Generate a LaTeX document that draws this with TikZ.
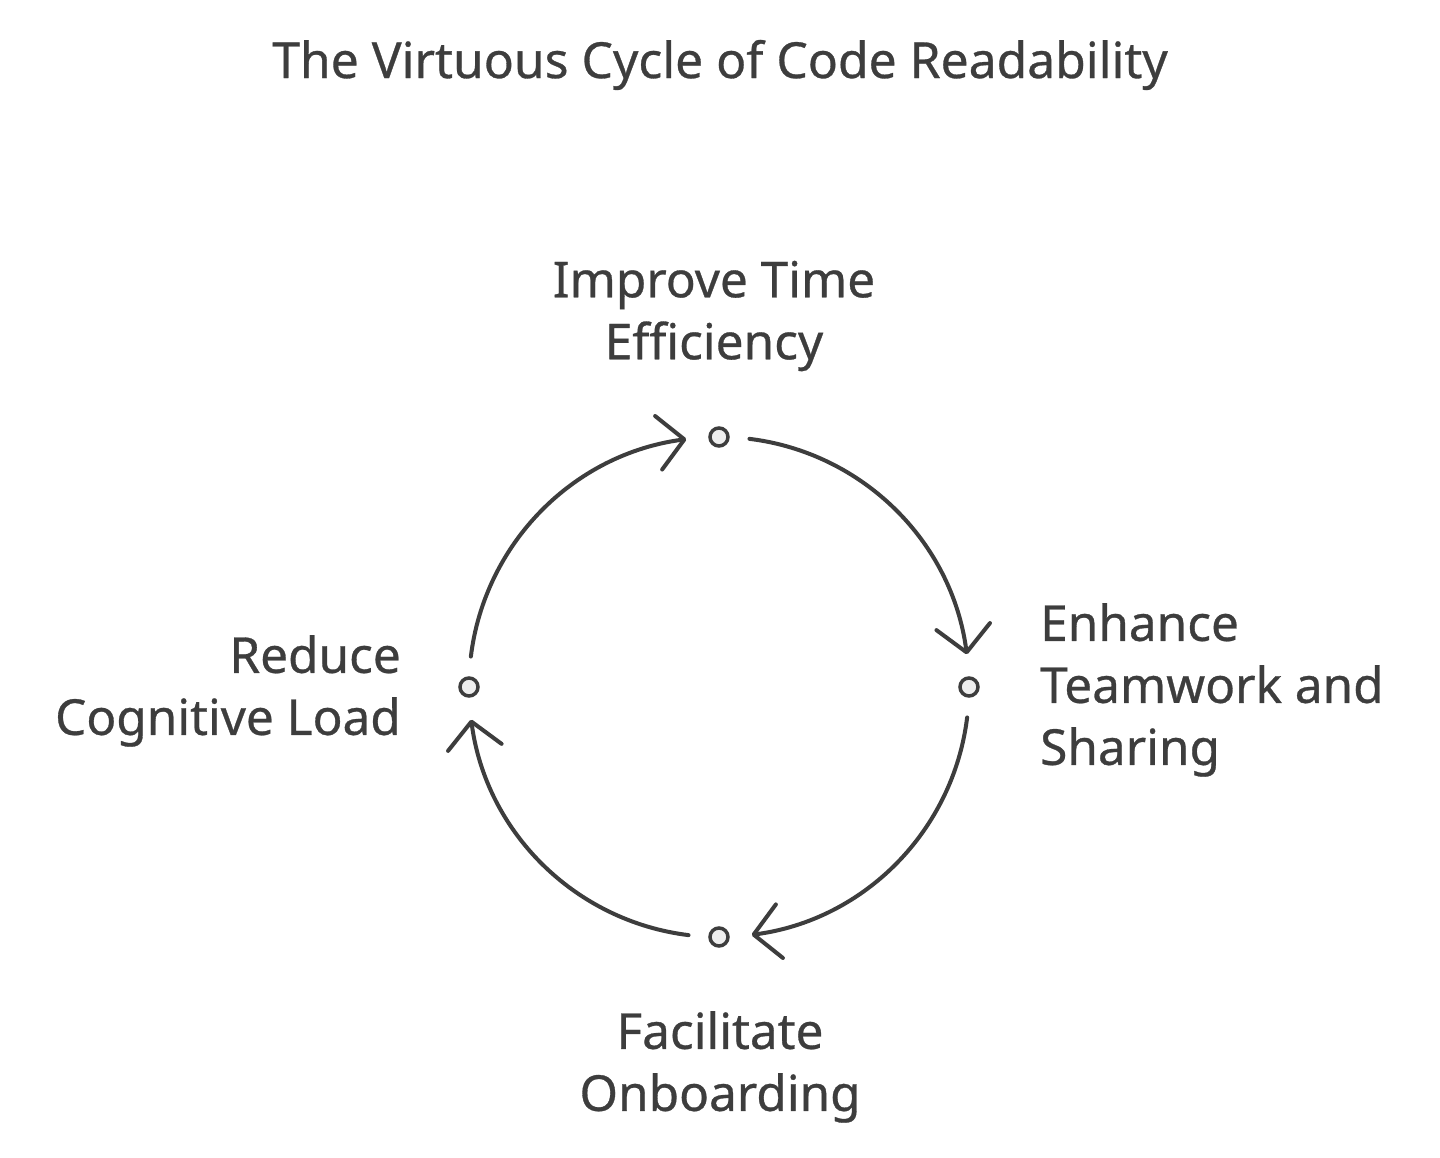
\documentclass[tikz,border=0pt]{standalone}
\usepackage{fontspec}
\setmainfont{Noto Sans}
\newfontfamily\lblfont{Noto Sans}[FakeBold=0.6]
\usetikzlibrary{arrows.meta,calc}
\definecolor{ink}{HTML}{3D3D3D}
\definecolor{dotfill}{HTML}{EEEEEE}
\begin{document}
\begin{tikzpicture}[x=1pt,y=1pt,
  dot/.style={circle,draw=ink,fill=dotfill,line width=3.5pt,minimum size=18pt,inner sep=0pt},
  arr/.style={draw=ink,line width=4pt,line cap=round,-{Straight Barb[length=26pt,width=54pt,line cap=round,line join=round]}},
  lbl/.style={text=ink,font=\lblfont\fontsize{49.5}{62}\selectfont,inner sep=0pt},
]
\useasboundingbox[fill=white] (0,0) rectangle (1440,1158);
\coordinate (c) at (719,471);
\node[dot] (t) at (719,721) {};
\node[dot] (r) at (969,471) {};
\node[dot] (b) at (719,221) {};
\node[dot] (l) at (469,471) {};
\coordinate (a1) at ($(c)+(83:250)$);
\coordinate (a2) at ($(c)+(-7:250)$);
\coordinate (a3) at ($(c)+(-97:250)$);
\coordinate (a4) at ($(c)+(173:250)$);
\draw[arr] (a1) arc[start angle=83,end angle=7.5,radius=250];
\draw[arr] (a2) arc[start angle=-7,end angle=-82.5,radius=250];
\draw[arr] (a3) arc[start angle=-97,end angle=-172.5,radius=250];
\draw[arr] (a4) arc[start angle=173,end angle=97.5,radius=250];
\node[lbl,font=\lblfont\fontsize{49.8}{62}\selectfont] (title) at (720,1093) {The Virtuous Cycle of Code Readability};
\node[lbl,align=center] (tl) at (714,842) {Improve Time\\Efficiency};
\node[lbl,align=left,anchor=west] (rl) at (1040,468) {Enhance\\Teamwork and\\Sharing};
\node[lbl,align=center] (bl) at (720,91) {Facilitate\\Onboarding};
\node[lbl,align=right,anchor=east] (ll) at (401,467) {Reduce\\Cognitive Load};
\end{tikzpicture}
\end{document}
